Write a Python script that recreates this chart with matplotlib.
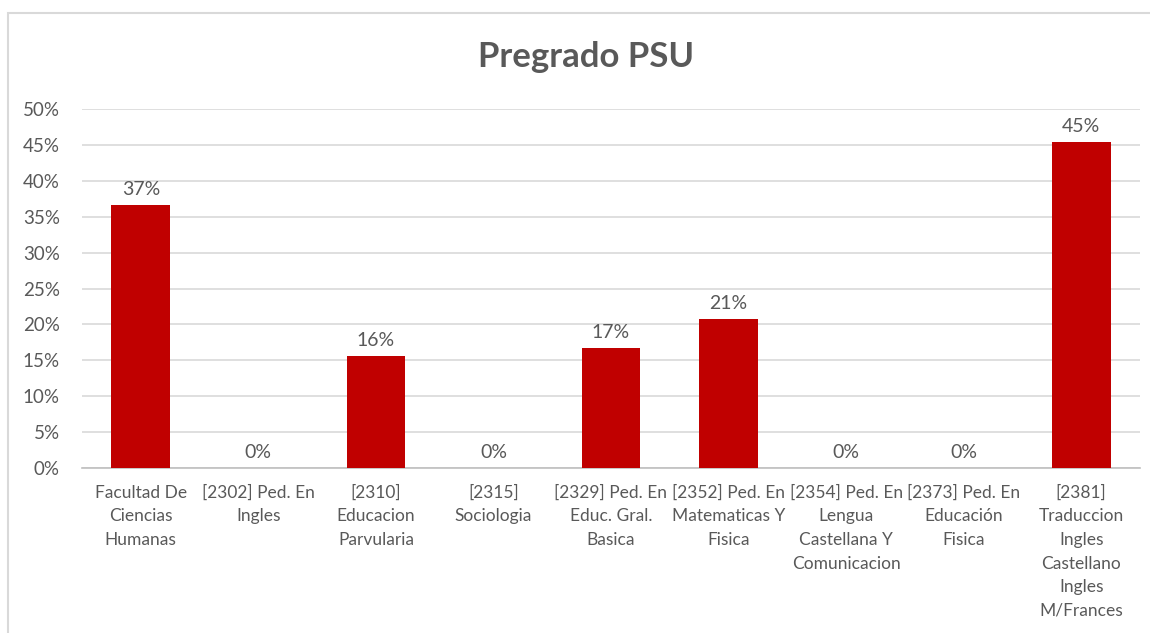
import matplotlib.pyplot as plt
from matplotlib.patches import Rectangle
from matplotlib.ticker import PercentFormatter

plt.rcParams['font.family'] = ['Lato', 'DejaVu Sans']

categorias = [
    "Facultad De\nCiencias\nHumanas",
    "[2302] Ped. En\nIngles",
    "[2310]\nEducacion\nParvularia",
    "[2315]\nSociologia",
    "[2329] Ped. En\nEduc. Gral.\nBasica",
    "[2352] Ped. En\nMatematicas Y\nFisica",
    "[2354] Ped. En\nLengua\nCastellana Y\nComunicacion",
    "[2373] Ped. En\nEducación\nFisica",
    "[2381]\nTraduccion\nIngles\nCastellano\nIngles\nM/Frances",
]
valores = [0.366, 0.0, 0.156, 0.0, 0.167, 0.208, 0.0, 0.0, 0.454]
yticks = [0, 0.05, 0.10, 0.15, 0.20, 0.25, 0.30, 0.35, 0.40, 0.45, 0.50]

gris = '#595959'
rojo = '#c00000'

W, H = 1150, 633
fig = plt.figure(figsize=(W / 100, H / 100), dpi=100)
ax = fig.add_axes([82 / W, (H - 468) / H, (1140 - 82) / W, (468 - 109) / H])

x = range(len(categorias))
ax.bar(x, valores, width=0.5, color=rojo, zorder=3)

for xi, v in zip(x, valores):
    ax.annotate(f"{v:.0%}", (xi, v), xytext=(0, 5), textcoords='offset points',
                ha='center', va='bottom', fontsize=14, color=gris)

ax.set_xlim(-0.5, len(categorias) - 0.5)
ax.set_ylim(0, 0.5)
ax.set_yticks(yticks)
ax.yaxis.set_major_formatter(PercentFormatter(1.0, decimals=0))
ax.set_xticks(list(x))
ax.set_xticklabels(categorias)
ax.tick_params(axis='both', length=0, colors=gris, labelsize=13.5)
ax.tick_params(axis='x', pad=12, labelsize=12.5)
ax.tick_params(axis='y', pad=16)
for lbl in ax.get_xticklabels():
    lbl.set_linespacing(1.58)
for lbl in ax.get_yticklabels():
    lbl.set_horizontalalignment('right')

ax.grid(axis='y', color='#d9d9d9', linewidth=1.2, zorder=0)
for s in ['top', 'right', 'left']:
    ax.spines[s].set_visible(False)
ax.spines['bottom'].set_color('#bfbfbf')
ax.spines['bottom'].set_linewidth(1.2)

fig.text(586 / W, (H - 57) / H, 'Pregrado PSU', ha='center', va='center',
         fontsize=25, fontweight='bold', color=gris)

fig.patches.append(Rectangle((8 / W, -0.1), 1.5, 1.1 - 13 / H, transform=fig.transFigure,
                             fill=False, edgecolor='#d9d9d9', linewidth=1.5))

fig.savefig('out.png', dpi=100)
